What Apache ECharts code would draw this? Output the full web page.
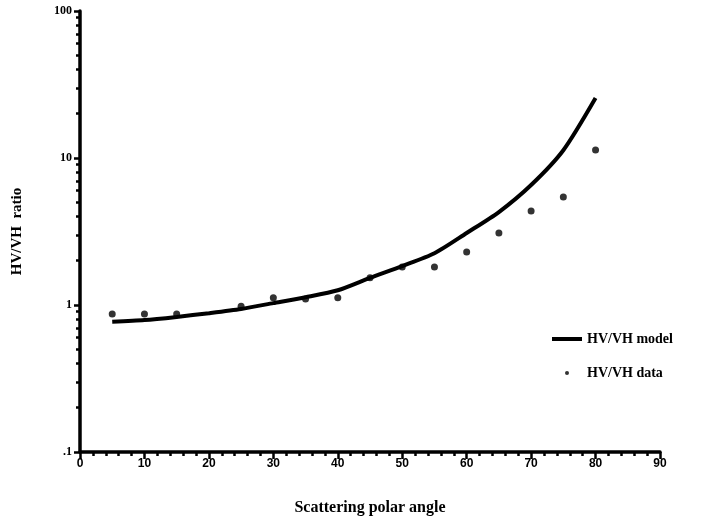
<!DOCTYPE html>
<html>
<head>
<meta charset="utf-8">
<title>HV/VH ratio vs scattering polar angle</title>
<script src="https://cdn.jsdelivr.net/npm/echarts@6/dist/echarts.min.js"></script>
<style>
  html, body { margin: 0; padding: 0; background: #fff; }
  #chart { width: 704px; height: 525px; }
</style>
</head>
<body>
<div id="chart"></div>
<script>
// Model curve: scattering polar angle (deg) and HV/VH ratio
const modelAngles = [5, 10, 15, 20, 25, 30, 35, 40, 45, 50, 55, 60, 65, 70, 75, 80];
const modelRatio  = [0.77, 0.79, 0.83, 0.88, 0.94, 1.03, 1.13, 1.26, 1.53, 1.84, 2.25, 3.09, 4.29, 6.55, 11.3, 25.6];

// Measured points
const dataAngles = [5, 10, 15, 25, 30, 35, 40, 45, 50, 55, 60, 65, 70, 75, 80];
const dataRatio  = [0.87, 0.87, 0.87, 0.98, 1.12, 1.10, 1.12, 1.53, 1.81, 1.81, 2.29, 3.09, 4.36, 5.43, 11.35];

// Axis tick labels
const yTickValues = [0.1, 1, 10, 100];
const yTickLabels = ['.1', '1', '10', '100'];

const serif = '"Liberation Serif", "DejaVu Serif", serif';
const sans = '"Liberation Sans", "DejaVu Sans", sans-serif';

const chart = echarts.init(document.getElementById('chart'), null, { renderer: 'canvas' });

const pairs = (xs, ys) => xs.map((x, i) => [x, ys[i]]);

chart.setOption({
  animation: false,
  backgroundColor: '#fff',
  grid: { left: 80, right: 44, top: 11, bottom: 73 },
  xAxis: {
    type: 'value',
    min: 0, max: 90, interval: 10,
    name: 'Scattering polar angle',
    nameLocation: 'middle',
    nameGap: 48,
    nameTextStyle: { fontFamily: serif, fontWeight: 'bold', fontSize: 16, color: '#000' },
    axisLine: { lineStyle: { color: '#000', width: 3.5 } },
    axisTick: { show: true, inside: false, length: 7, lineStyle: { color: '#000', width: 2.5 } },
    minorTick: { show: true, splitNumber: 5, length: 4, lineStyle: { color: '#000', width: 2.5 } },
    axisLabel: { fontFamily: sans, fontWeight: 'bold', fontSize: 12, color: '#000', margin: 6 },
    splitLine: { show: false }
  },
  yAxis: {
    type: 'log',
    logBase: 10,
    min: 0.1, max: 100,
    name: 'HV/VH  ratio',
    nameLocation: 'middle',
    nameRotate: 90,
    nameGap: 55,
    nameTextStyle: { fontFamily: serif, fontWeight: 'bold', fontSize: 15, color: '#000' },
    axisLine: { lineStyle: { color: '#000', width: 3.5 } },
    axisTick: { show: true, inside: false, length: 6, lineStyle: { color: '#000', width: 2.5 } },
    minorTick: { show: true, splitNumber: 9, length: 4, lineStyle: { color: '#000', width: 2.5 } },
    axisLabel: {
      fontFamily: serif, fontWeight: 'bold', fontSize: 12, color: '#000', margin: 8,
      formatter: v => {
        const i = yTickValues.findIndex(t => Math.abs(t - v) / t < 1e-6);
        return i >= 0 ? yTickLabels[i] : '';
      }
    },
    splitLine: { show: false }
  },
  legend: {
    orient: 'vertical',
    left: 547, top: 327,
    itemWidth: 30, itemHeight: 4,
    itemGap: 20,
    textStyle: { fontFamily: serif, fontWeight: 'bold', fontSize: 14, color: '#000' },
    data: [
      { name: 'HV/VH model', icon: 'rect' },
      { name: 'HV/VH data', icon: 'circle' }
    ]
  },
  series: [
    {
      name: 'HV/VH model',
      type: 'line',
      data: pairs(modelAngles, modelRatio),
      smooth: 0.25,
      showSymbol: false,
      symbol: 'none',
      lineStyle: { color: '#000', width: 4 },
      itemStyle: { color: '#000' }
    },
    {
      name: 'HV/VH data',
      type: 'scatter',
      data: pairs(dataAngles, dataRatio),
      symbol: 'circle',
      symbolSize: 7,
      itemStyle: { color: '#000' }
    }
  ]
});
</script>
</body>
</html>
